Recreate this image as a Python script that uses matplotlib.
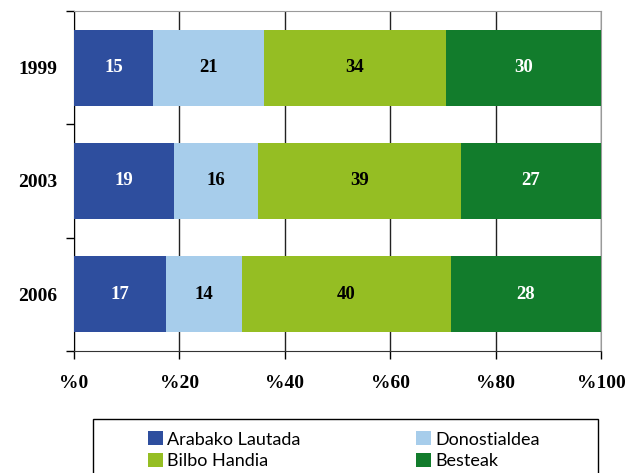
import numpy as np
import matplotlib
matplotlib.use("Agg")
import matplotlib.pyplot as plt
from matplotlib.patches import Rectangle

# data (percent of each year)
years = ["1999", "2003", "2006"]
regions = ["Arabako Lautada", "Donostialdea", "Bilbo Handia", "Besteak"]
arabako = [15.0, 19.0, 17.5]
donostia = [21.0, 15.9, 14.4]
bilbo = [34.6, 38.5, 39.6]
besteak = [29.4, 26.6, 28.5]
# printed labels on the bars
arabako_lbl = [15, 19, 17]
donostia_lbl = [21, 16, 14]
bilbo_lbl = [34, 39, 40]
besteak_lbl = [30, 27, 28]
xticks = [0, 20, 40, 60, 80, 100]

colors = ["#2E4E9E", "#A7CDEB", "#95BE23", "#127C2C"]
text_colors = ["white", "black", "black", "white"]
serif = "Liberation Serif"

fig = plt.figure(figsize=(6.38, 4.73), dpi=100)
ax = fig.add_axes([74 / 638, 1 - 351 / 473, 527 / 638, 340 / 473])

y = np.arange(len(years))
left = np.zeros(len(years))
series = [arabako, donostia, bilbo, besteak]
labels = [arabako_lbl, donostia_lbl, bilbo_lbl, besteak_lbl]
for vals, lbls, col, tc, name in zip(series, labels, colors, text_colors, regions):
    vals = np.array(vals)
    ax.barh(y, vals, left=left, height=0.67, color=col, label=name, zorder=3)
    for yi, l, v, t in zip(y, left, vals, lbls):
        ax.text(l + v / 2, yi, str(t), ha="center", va="center", color=tc,
                fontsize=13.5, fontweight="bold", family=serif, zorder=4)
    left += vals

ax.set_xlim(0, 100)
ax.set_ylim(2.5, -0.5)
ax.set_xticks(xticks)
ax.set_xticklabels(["%" + str(t) for t in xticks], fontsize=14,
                   fontweight="bold", family=serif)
ax.set_yticks(y)
ax.set_yticklabels(years, fontsize=14, fontweight="bold", family=serif)
ax.set_yticks([-0.5, 0.5, 1.5, 2.5], minor=True)
ax.tick_params(axis="y", which="major", length=0, pad=12)
ax.tick_params(axis="y", which="minor", length=6, width=1, direction="out")
ax.tick_params(axis="x", length=6, width=1, direction="out", pad=11)

ax.grid(axis="x", color="#222222", linewidth=1, zorder=0)
ax.spines["top"].set_color("#9a9a9a")
ax.spines["right"].set_color("#9a9a9a")
ax.spines["left"].set_color("black")
ax.spines["bottom"].set_color("#333333")

# legend box (runs off the bottom of the image)
fig.patches.append(Rectangle((93 / 638, -0.05), 505 / 638, (1 - 419 / 473) + 0.05,
                             transform=fig.transFigure, fill=False,
                             edgecolor="black", linewidth=1))
handles, names = ax.get_legend_handles_labels()
order = [0, 2, 1, 3]  # rows: Arabako/Donostialdea, Bilbo/Besteak
fig.legend([handles[i] for i in order], [names[i] for i in order], ncol=2,
           loc="upper left", bbox_to_anchor=(134 / 638, 1 - 417 / 473),
           frameon=False, prop={"family": "Lato", "size": 13},
           handlelength=0.8, handleheight=0.8, handletextpad=0.25,
           columnspacing=6.4, labelspacing=0.3, borderpad=0.3)

fig.savefig("out.png", dpi=100)
